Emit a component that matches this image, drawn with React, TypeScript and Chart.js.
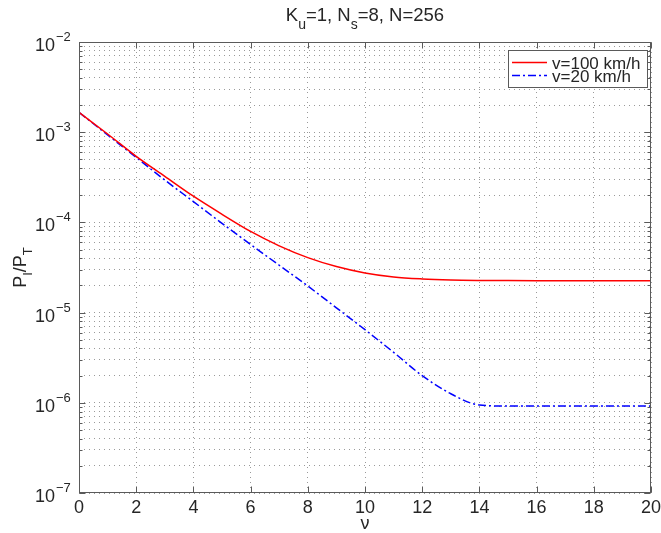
import React, { useEffect, useRef } from "react";
import { Chart, registerables } from "chart.js";

Chart.register(...registerables);

// ---- data ----
const nu = [0, 1, 2, 3, 4, 5, 6, 7, 8, 9, 10, 11, 12, 13, 14, 15, 16, 17, 18, 19, 20];
const v100 = [
  1.66e-3, 9.55e-4, 5.4e-4, 3.24e-4, 1.95e-4, 1.23e-4, 7.94e-5, 5.5e-5, 4.07e-5, 3.24e-5,
  2.75e-5, 2.48e-5, 2.36e-5, 2.3e-5, 2.275e-5, 2.265e-5, 2.26e-5, 2.26e-5, 2.26e-5, 2.26e-5, 2.26e-5,
];
const v20 = [
  1.66e-3, 9.33e-4, 5.25e-4, 2.95e-4, 1.7e-4, 9.77e-5, 5.69e-5, 3.35e-5, 1.97e-5, 1.13e-5,
  6.46e-6, 3.63e-6, 2.0e-6, 1.26e-6, 9.44e-7, 9.2e-7, 9.2e-7, 9.2e-7, 9.2e-7, 9.2e-7, 9.2e-7,
];
const seriesLabels = ["v=100 km/h", "v=20 km/h"];
const xTicks = [0, 2, 4, 6, 8, 10, 12, 14, 16, 18, 20];
const yExponents = [-7, -6, -5, -4, -3, -2];
const xTitle = "ν";
// [text, isSubscript]
const titleParts: [string, boolean][] = [
  ["K", false], ["u", true], ["=1, N", false], ["s", true], ["=8, N=256", false],
];
const yTitleParts: [string, boolean][] = [
  ["P", false], ["I", true], ["/P", false], ["T", true],
];

const FONT = '"Liberation Sans", Arial, Helvetica, sans-serif';
const TEXT = "#262626";
const AXIS = "#5a5a5a";
const GRID = "#9a9a9a";

function yGridValues(): number[] {
  const vals: number[] = [];
  for (let i = 0; i < yExponents.length - 1; i++) {
    for (let m = 1; m <= 9; m++) vals.push(m * Math.pow(10, yExponents[i]));
  }
  vals.push(Math.pow(10, yExponents[yExponents.length - 1]));
  return vals;
}

function drawParts(
  ctx: CanvasRenderingContext2D,
  parts: [string, boolean][],
  cx: number,
  baseline: number,
  size: number,
  subSize: number,
  subShift: number
) {
  let total = 0;
  const widths = parts.map(([t, sub]) => {
    ctx.font = `${sub ? subSize : size}px ${FONT}`;
    const w = ctx.measureText(t).width;
    total += w;
    return w;
  });
  let x = cx - total / 2;
  parts.forEach(([t, sub], i) => {
    ctx.font = `${sub ? subSize : size}px ${FONT}`;
    ctx.fillText(t, x, baseline + (sub ? subShift : 0));
    x += widths[i];
  });
}

const decorPlugin = {
  id: "decor",
  afterDraw(chart: any) {
    const ctx: CanvasRenderingContext2D = chart.ctx;
    const area = chart.chartArea;
    const xs = chart.scales.x;
    const ys = chart.scales.y;
    const L = Math.round(area.left) + 0.5;
    const R = Math.round(area.right) - 0.5;
    const T = Math.round(area.top) + 0.5;
    const B = Math.round(area.bottom) - 0.5;
    ctx.save();
    ctx.strokeStyle = AXIS;
    ctx.lineWidth = 1;
    ctx.setLineDash([]);
    // inward ticks
    ctx.beginPath();
    xTicks.forEach((v) => {
      const px = Math.round(xs.getPixelForValue(v)) + 0.5;
      ctx.moveTo(px, B);
      ctx.lineTo(px, B - 6);
      ctx.moveTo(px, T);
      ctx.lineTo(px, T + 6);
    });
    yGridValues().forEach((v) => {
      const py = Math.round(ys.getPixelForValue(v)) + 0.5;
      const len = Math.abs(Math.log10(v) - Math.round(Math.log10(v))) < 1e-9 ? 6 : 3;
      ctx.moveTo(L, py);
      ctx.lineTo(L + len, py);
      ctx.moveTo(R, py);
      ctx.lineTo(R - len, py);
    });
    ctx.stroke();
    // box
    ctx.strokeRect(L, T, R - L, B - T);

    // x tick labels
    ctx.fillStyle = TEXT;
    ctx.textAlign = "center";
    ctx.textBaseline = "alphabetic";
    ctx.font = `18px ${FONT}`;
    xTicks.forEach((v) => {
      ctx.fillText(String(v), xs.getPixelForValue(v), 513);
    });
    // x title
    ctx.font = `18px ${FONT}`;
    ctx.fillText(xTitle, (area.left + area.right) / 2, 529);

    // y tick labels 10^e
    ctx.textAlign = "left";
    yExponents.forEach((e) => {
      const py = ys.getPixelForValue(Math.pow(10, e));
      ctx.font = `18px ${FONT}`;
      const w = ctx.measureText("10").width;
      ctx.fillText("10", 55 - w, py + 9);
      ctx.font = `13px ${FONT}`;
      ctx.fillText("\u2212" + String(Math.abs(e)), 56, py - 1);
    });

    // title
    ctx.textAlign = "left";
    drawParts(ctx, titleParts, (area.left + area.right) / 2, 21, 18.5, 14, 8);

    // y title (rotated)
    ctx.save();
    ctx.translate(26, (area.top + area.bottom) / 2);
    ctx.rotate(-Math.PI / 2);
    drawParts(ctx, yTitleParts, 0, 0, 18, 13, 6);
    ctx.restore();

    // legend
    const bx = 508.5, by = 50.5, bw = 139, bh = 37;
    ctx.fillStyle = "#ffffff";
    ctx.fillRect(bx, by, bw, bh);
    ctx.strokeStyle = AXIS;
    ctx.strokeRect(bx, by, bw, bh);
    const ds = chart.data.datasets;
    const rows = [62.5, 75.5];
    ds.forEach((d: any, i: number) => {
      ctx.strokeStyle = d.borderColor;
      ctx.lineWidth = 1.5;
      ctx.setLineDash(d.borderDash || []);
      ctx.beginPath();
      ctx.moveTo(512, rows[i]);
      ctx.lineTo(547, rows[i]);
      ctx.stroke();
      ctx.setLineDash([]);
      ctx.fillStyle = TEXT;
      ctx.font = `17px ${FONT}`;
      ctx.fillText(d.label, 552, rows[i] + 6);
    });
    ctx.restore();
  },
};

export default function App() {
  const ref = useRef<HTMLCanvasElement | null>(null);
  useEffect(() => {
    if (!ref.current) return;
    const chart = new Chart(ref.current, {
      type: "line",
      data: {
        labels: nu,
        datasets: [
          {
            label: seriesLabels[0],
            data: nu.map((x, i) => ({ x, y: v100[i] })),
            borderColor: "#ff0000",
            borderWidth: 1.5,
            pointRadius: 0,
            cubicInterpolationMode: "monotone",
            fill: false,
          },
          {
            label: seriesLabels[1],
            data: nu.map((x, i) => ({ x, y: v20[i] })),
            borderColor: "#0000ff",
            borderWidth: 1.5,
            borderDash: [8, 3, 2, 3],
            pointRadius: 0,
            cubicInterpolationMode: "monotone",
            fill: false,
          },
        ],
      },
      options: {
        animation: false,
        responsive: false,
        events: [],
        layout: { padding: { top: 42, right: 10, left: 0, bottom: 0 } },
        plugins: { legend: { display: false }, title: { display: false }, tooltip: { enabled: false } },
        scales: {
          x: {
            type: "linear",
            min: 0,
            max: 20,
            afterBuildTicks: (s: any) => {
              s.ticks = xTicks.map((v) => ({ value: v }));
            },
            afterFit: (s: any) => {
              s.height = 40;
            },
            ticks: { display: false },
            grid: { color: GRID, lineWidth: 1, drawTicks: false },
            border: { display: false, dash: [1, 4] },
          },
          y: {
            type: "logarithmic",
            min: 1e-7,
            max: 1e-2,
            afterBuildTicks: (s: any) => {
              s.ticks = yGridValues().map((v) => ({ value: v }));
            },
            afterFit: (s: any) => {
              s.width = 79;
            },
            ticks: { display: false },
            grid: { color: GRID, lineWidth: 1, drawTicks: false },
            border: { display: false, dash: [1, 4] },
          },
        },
      },
      plugins: [decorPlugin],
    } as any);
    return () => chart.destroy();
  }, []);
  return (
    <div style={{ position: "absolute", left: 0, top: 0, width: 661, height: 533, background: "#fff" }}>
      <canvas ref={ref} width={661} height={533} style={{ display: "block" }} />
    </div>
  );
}
